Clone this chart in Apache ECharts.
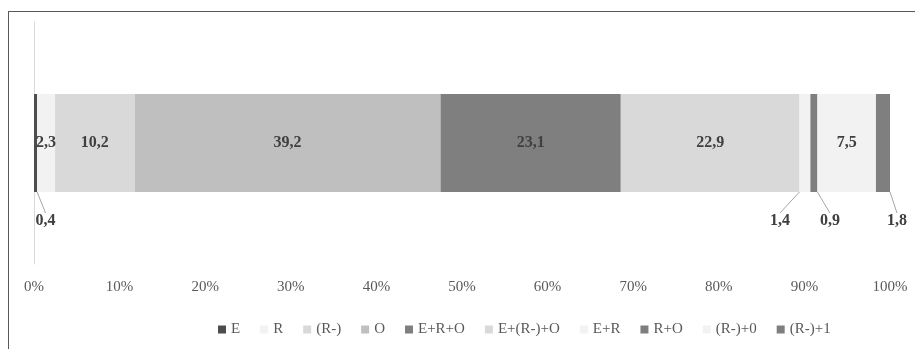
<!DOCTYPE html>
<html>
<head>
<meta charset="utf-8">
<script src="https://cdn.jsdelivr.net/npm/echarts@6/dist/echarts.min.js"></script>
<style>
html,body{margin:0;padding:0;background:#fff;}
#frame{position:absolute;left:8px;top:11px;width:920px;height:400px;border-top:1px solid #595959;border-left:1px solid #595959;box-sizing:border-box;}
#chart{position:absolute;left:0;top:0;width:915px;height:349px;}
</style>
</head>
<body>
<div id="frame"></div>
<div id="chart"></div>
<script>
const seriesNames = ['E', 'R', '(R-)', 'O', 'E+R+O', 'E+(R-)+O', 'E+R', 'R+O', '(R-)+0', '(R-)+1'];
const seriesValues = [0.4, 2.3, 10.2, 39.2, 23.1, 22.9, 1.4, 0.9, 7.5, 1.8];
const seriesColors = ['#4d4d4d', '#f2f2f2', '#d9d9d9', '#bfbfbf', '#7f7f7f', '#d9d9d9', '#f2f2f2', '#7f7f7f', '#f2f2f2', '#7f7f7f'];
const categories = [''];
const xTicks = [0, 10, 20, 30, 40, 50, 60, 70, 80, 90, 100];
// label offsets for small segments whose labels sit below the bar
const outsideLabels = {0: [10, 16], 6: [-25, 16], 7: [16, 16], 9: [14, 16]};

const total = seriesValues.reduce((a, b) => a + b, 0);
const FONT = '"Liberation Serif", "DejaVu Serif", serif';

const series = seriesNames.map((name, i) => {
  const raw = seriesValues[i];
  const pct = raw / total * 100;
  const s = {
    name: name,
    type: 'bar',
    stack: 'total',
    barWidth: 98,
    itemStyle: {color: seriesColors[i]},
    data: [{value: pct, raw: raw}],
    label: {
      show: true,
      position: 'inside',
      color: '#404040',
      fontFamily: FONT,
      fontWeight: 'bold',
      fontSize: 16,
      formatter: () => String(raw).replace('.', ',')
    }
  };
  const off = outsideLabels[i];
  if (off) {
    s.label.position = 'bottom';
    s.label.distance = 5;
    s.labelLayout = {dx: off[0], dy: off[1]};
    s.labelLine = {show: true, lineStyle: {color: '#a6a6a6', width: 1}};
  }
  return s;
});

const chart = echarts.init(document.getElementById('chart'), null, {renderer: 'canvas'});
chart.setOption({
  animation: false,
  backgroundColor: 'transparent',
  grid: {left: 34, right: 25, top: 22, bottom: 85},
  legend: {
    left: 213,
    top: 317,
    itemWidth: 8,
    itemHeight: 8,
    itemGap: 20,
    icon: 'rect',
    textStyle: {color: '#595959', fontFamily: FONT, fontSize: 15},
    data: seriesNames
  },
  xAxis: {
    type: 'value',
    min: xTicks[0],
    max: xTicks[xTicks.length - 1],
    interval: 10,
    splitLine: {show: false},
    axisLine: {show: false},
    axisTick: {show: false},
    axisLabel: {
      color: '#595959', fontFamily: FONT, fontSize: 15, margin: 16,
      formatter: v => v + '%'
    }
  },
  yAxis: {
    type: 'category',
    data: categories,
    axisLine: {show: true, lineStyle: {color: '#d9d9d9', width: 1}},
    axisTick: {show: false},
    axisLabel: {show: false}
  },
  series: series
});
</script>
</body>
</html>
